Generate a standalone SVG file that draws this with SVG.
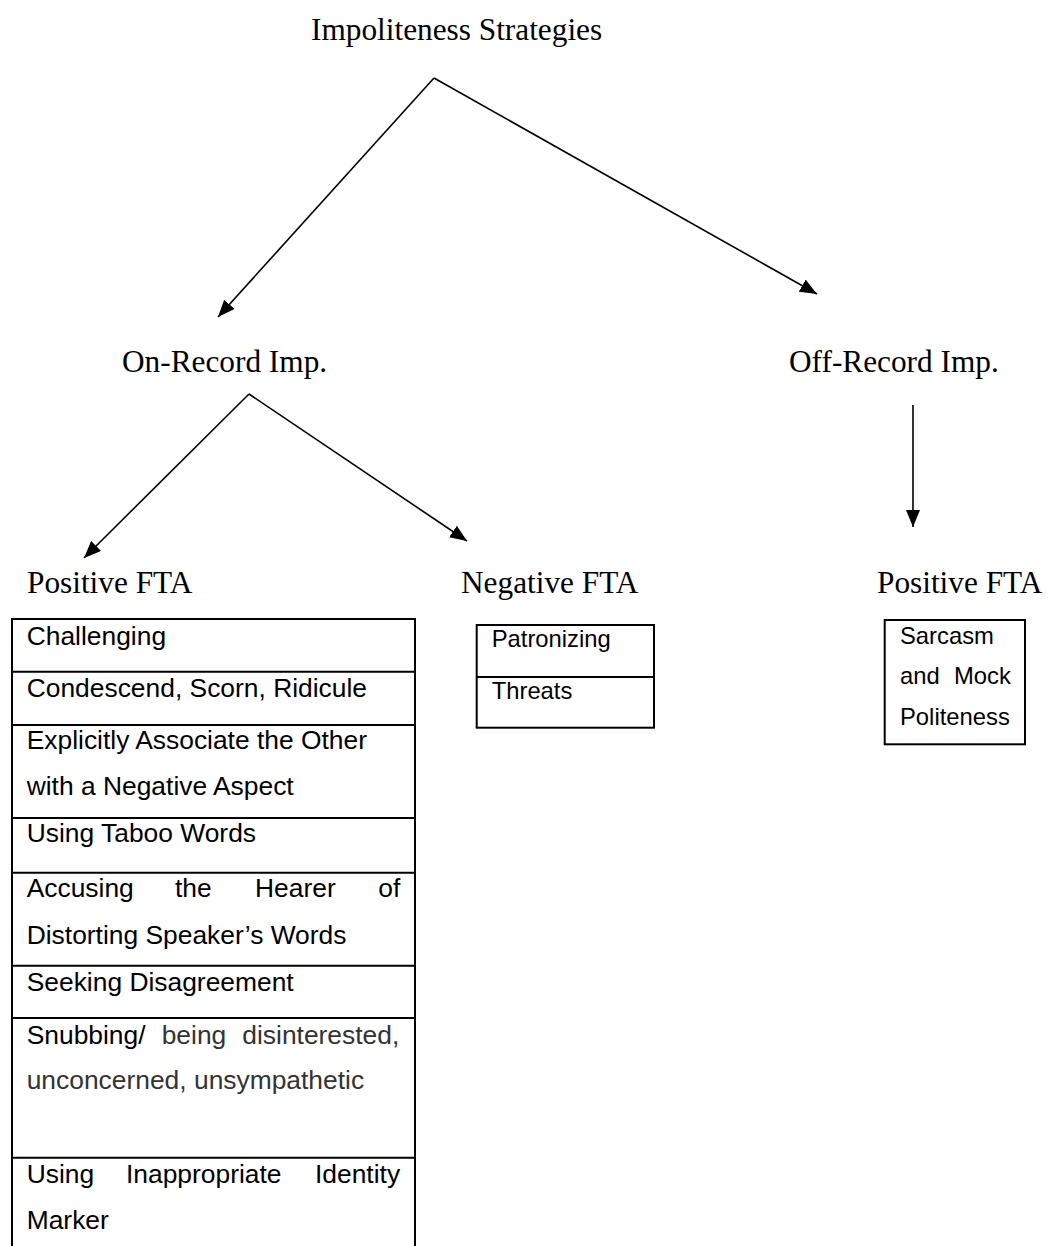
<svg xmlns="http://www.w3.org/2000/svg" width="1050" height="1246" viewBox="0 0 1050 1246">
<style>
.lbl{font-family:"Liberation Serif","Times New Roman",serif;font-size:31.3px;fill:#000}
.cell{font-family:"Liberation Sans",Arial,sans-serif;font-size:26.4px;fill:#000}
.small{font-family:"Liberation Sans",Arial,sans-serif;font-size:23.8px;fill:#000}
.grey{fill:#333}
.edge{stroke:#000;stroke-width:1.6;fill:none;marker-end:url(#ah)}
.box{stroke:#000;stroke-width:2;fill:none}
</style>
<defs>
<marker id="ah" markerUnits="userSpaceOnUse" markerWidth="17" markerHeight="14" refX="17" refY="7" orient="auto">
<path d="M0,0 L17,7 L0,14 z" fill="#000"/>
</marker>
</defs>
<rect width="1050" height="1246" fill="#fff"/>
<g id="connectors">
<polyline class="edge" points="434,78 218,317"/>
<polyline class="edge" points="434,78 817,294"/>
<polyline class="edge" points="249,394 84,558"/>
<polyline class="edge" points="249,394 467,541"/>
<polyline class="edge" points="913,405 913,527"/>
</g>
<g id="root"><text class="lbl" x="311" y="40">Impoliteness Strategies</text></g>
<g id="on-record"><text class="lbl" x="122" y="372">On-Record Imp.</text></g>
<g id="off-record"><text class="lbl" x="789" y="372">Off-Record Imp.</text></g>
<g id="positive-fta-on"><text class="lbl" x="27" y="593">Positive FTA</text></g>
<g id="negative-fta"><text class="lbl" x="461" y="593">Negative FTA</text></g>
<g id="positive-fta-off"><text class="lbl" x="877" y="593">Positive FTA</text></g>
<g id="positive-list">
<path class="box" d="M12,1246 V619 H415 V1246 M12,671.7 H415 M12,725 H415 M12,818 H415 M12,872.7 H415 M12,965.7 H415 M12,1018 H415 M12,1157.7 H415"/>
<text class="cell" x="26.7" y="645">Challenging</text>
<text class="cell" x="26.7" y="697">Condescend, Scorn, Ridicule</text>
<text class="cell" x="26.7" y="748.5">Explicitly Associate the Other</text>
<text class="cell" x="26.7" y="794.5">with a Negative Aspect</text>
<text class="cell" x="26.7" y="842">Using Taboo Words</text>
<text class="cell" y="897"><tspan x="26.7">Accusing</tspan><tspan x="175">the</tspan><tspan x="255">Hearer</tspan><tspan x="378.3">of</tspan></text>
<text class="cell" x="26.7" y="943.5">Distorting Speaker’s Words</text>
<text class="cell" x="26.7" y="991">Seeking Disagreement</text>
<text class="cell" y="1043.5"><tspan x="26.7">Snubbing/</tspan><tspan class="grey" x="161.7">being</tspan><tspan class="grey" x="242.3">disinterested,</tspan></text>
<text class="cell grey" x="26.7" y="1088.5">unconcerned, unsympathetic</text>
<text class="cell" y="1183"><tspan x="26.7">Using</tspan><tspan x="126">Inappropriate</tspan><tspan x="315">Identity</tspan></text>
<text class="cell" x="26.7" y="1228.5">Marker</text>
</g>
<g id="negative-list">
<rect class="box" x="476.7" y="625" width="177.3" height="102.7"/>
<line class="box" x1="476.7" y1="677" x2="654" y2="677"/>
<text class="small" x="491.7" y="647">Patronizing</text>
<text class="small" x="491.7" y="699">Threats</text>
</g>
<g id="off-list">
<rect class="box" x="884.7" y="620" width="140.3" height="124.3"/>
<text class="small" x="900" y="643.5">Sarcasm</text>
<text class="small" y="683.5"><tspan x="900">and</tspan><tspan x="954">Mock</tspan></text>
<text class="small" x="900" y="725">Politeness</text>
</g>
</svg>
